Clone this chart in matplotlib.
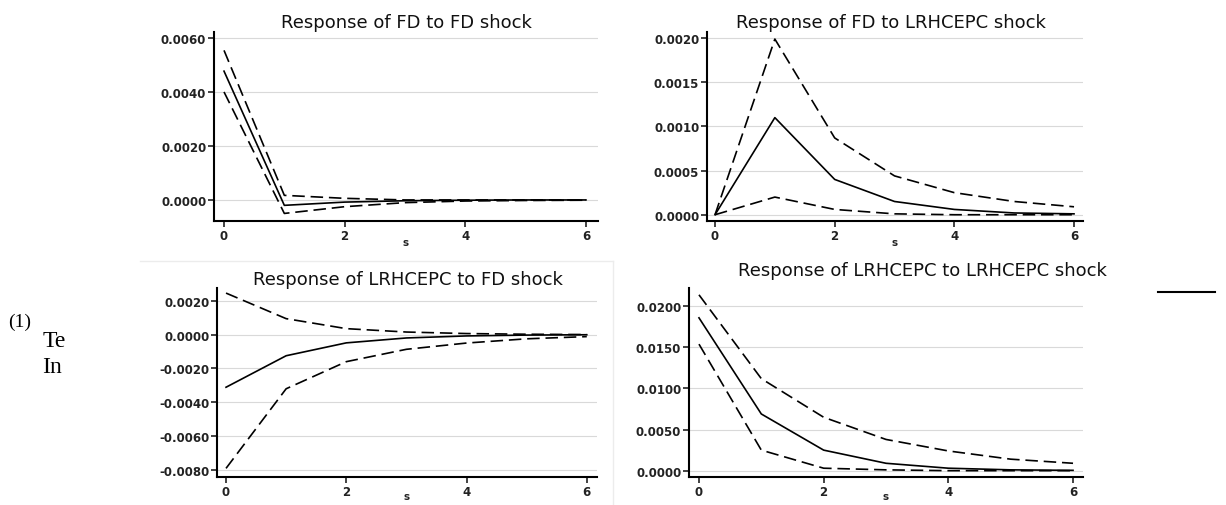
import matplotlib
matplotlib.use("Agg")
import matplotlib.pyplot as plt
from matplotlib.lines import Line2D
from matplotlib.ticker import FormatStrFormatter

W, H = 1226, 506
DPI = 100

steps = [0, 1, 2, 3, 4, 5, 6]

# Response of FD to FD shock
fd_fd = [0.00477, -0.00020, -0.00008, -0.00003, -0.00001, 0.0, 0.0]
fd_fd_hi = [0.00554, 0.00017, 0.00006, 0.00000, 0.0, 0.0, 0.0]
fd_fd_lo = [0.00400, -0.00050, -0.00025, -0.00010, -0.00004, -0.00002, -0.00001]

# Response of FD to LRHCEPC shock
fd_lr = [0.0, 0.00110, 0.00040, 0.00015, 0.00006, 0.00002, 0.00001]
fd_lr_hi = [0.0, 0.00199, 0.00087, 0.00044, 0.00025, 0.00015, 0.00009]
fd_lr_lo = [0.0, 0.00020, 0.00006, 0.00001, 0.0, 0.0, 0.0]

# Response of LRHCEPC to FD shock
lr_fd = [-0.00311, -0.00125, -0.00049, -0.00020, -0.00008, -0.00003, -0.00001]
lr_fd_hi = [0.00245, 0.00094, 0.00035, 0.00015, 0.00006, 0.00002, 0.00000]
lr_fd_lo = [-0.00790, -0.00320, -0.00160, -0.00087, -0.00050, -0.00025, -0.00012]

# Response of LRHCEPC to LRHCEPC shock
lr_lr = [0.0186, 0.0069, 0.0025, 0.0009, 0.0003, 0.0001, 0.00004]
lr_lr_hi = [0.0214, 0.0112, 0.0065, 0.0038, 0.0024, 0.0014, 0.0009]
lr_lr_lo = [0.0154, 0.0025, 0.0003, 0.0001, 0.0, 0.0, 0.0]

titles = ["Response of FD to FD shock",
          "Response of FD to LRHCEPC shock",
          "Response of LRHCEPC to FD shock",
          "Response of LRHCEPC to LRHCEPC shock"]
yticks_list = [
    [0.0, 0.002, 0.004, 0.006],
    [0.0, 0.0005, 0.0010, 0.0015, 0.0020],
    [-0.008, -0.006, -0.004, -0.002, 0.0, 0.002],
    [0.0, 0.005, 0.010, 0.015, 0.020],
]
xticks = [0, 2, 4, 6]
xlabel = "s"

plt.rcParams['font.family'] = ['DejaVu Sans']

fig = plt.figure(figsize=(W / DPI, H / DPI), dpi=DPI)
fig.patch.set_facecolor('white')


def px_rect(left, top, right, bottom):
    return [left / W, 1 - bottom / H, (right - left) / W, (bottom - top) / H]


# axes boxes in pixel coords and axis limits
boxes = [
    (214, 33, 598, 222),
    (707, 33, 1083, 222),
    (217, 289, 597, 478),
    (689, 289, 1083, 478),
]
xlims = [(-0.166, 6.2), (-0.134, 6.15), (-0.15, 6.17), (-0.16, 6.16)]
ylims = [(-0.00078, 0.00622), (-0.000071, 0.00207), (-0.00841, 0.00275), (-0.00077, 0.02223)]
title_pos = [(406, 23), (891, 23), (408, 280), (922, 271)]
xlabel_y = [243, 243, 497, 497]
series = [
    (fd_fd, fd_fd_hi, fd_fd_lo),
    (fd_lr, fd_lr_hi, fd_lr_lo),
    (lr_fd, lr_fd_hi, lr_fd_lo),
    (lr_lr, lr_lr_hi, lr_lr_lo),
]

# faint frame lines of the embedded image panels
fig.add_artist(Line2D([140 / W, 613 / W], [1 - 262 / H, 1 - 262 / H],
                      color='#ececec', lw=1.0))
fig.add_artist(Line2D([613 / W, 613 / W], [1 - 262 / H, 0],
                      color='#ececec', lw=1.0))

for i in range(4):
    ax = fig.add_axes(px_rect(*boxes[i]))
    mid, hi, lo = series[i]
    for yv in yticks_list[i]:
        ax.axhline(yv, color='#d9d9d9', lw=0.8, zorder=0)
    ax.plot(steps, hi, color='black', lw=1.2, dashes=(7.5, 3.5))
    ax.plot(steps, lo, color='black', lw=1.2, dashes=(7.5, 3.5))
    ax.plot(steps, mid, color='black', lw=1.2)
    ax.set_xlim(*xlims[i])
    ax.set_ylim(*ylims[i])
    ax.set_xticks(xticks)
    ax.set_yticks(yticks_list[i])
    ax.yaxis.set_major_formatter(FormatStrFormatter('%.4f'))
    for s in ['top', 'right']:
        ax.spines[s].set_visible(False)
    for s in ['left', 'bottom']:
        ax.spines[s].set_linewidth(1.5)
    ax.tick_params(axis='both', length=4, width=1.2, pad=1.5,
                   labelsize=8.5, colors='#222222')
    for lab in ax.get_xticklabels() + ax.get_yticklabels():
        lab.set_fontweight('bold')
    b = boxes[i]
    ax.set_xlabel(xlabel, fontsize=7.5, fontweight='bold', color='#222222')
    ax.xaxis.set_label_coords(0.5, -(xlabel_y[i] - b[3]) / (b[3] - b[1]))
    ax.xaxis.label.set_va('center')
    tx, ty = title_pos[i]
    fig.text(tx / W, 1 - ty / H, titles[i], ha='center', va='center',
             fontsize=13, color='#111111')

# stray text from the surrounding page, clipped on its right
tax = fig.add_axes(px_rect(0, 290, 65, 390))
tax.set_axis_off()
tax.set_xlim(0, 65)
tax.set_ylim(390, 290)
tax.text(8, 327, "(1)", fontsize=14, family='Liberation Serif',
         ha='left', va='baseline', clip_on=True)
tax.text(43, 347, "Te", fontsize=17, family='Liberation Serif',
         ha='left', va='baseline', clip_on=True)
tax.text(42, 373, "In", fontsize=17, family='Liberation Serif',
         ha='left', va='baseline', clip_on=True)

# stray horizontal rule at the right
fig.add_artist(Line2D([1158 / W, 1215 / W], [1 - 293 / H, 1 - 293 / H],
                      color='black', lw=1.5))

fig.savefig("out.png", dpi=DPI, facecolor='white')
